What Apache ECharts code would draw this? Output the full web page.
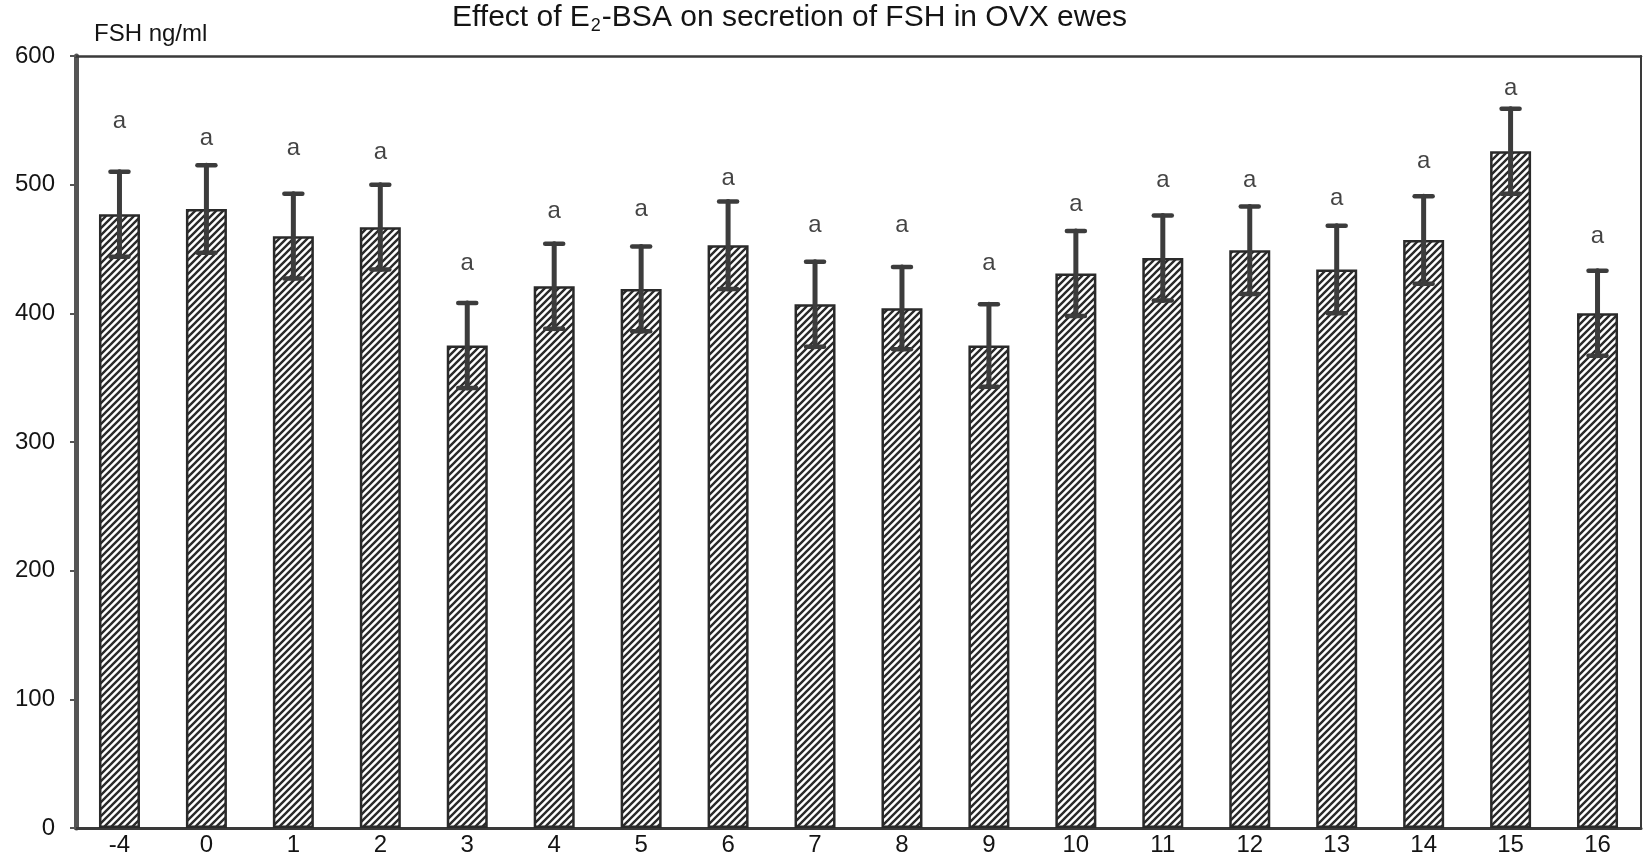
<!DOCTYPE html>
<html>
<head>
<meta charset="utf-8">
<title>FSH secretion</title>
<script src="https://cdn.jsdelivr.net/npm/echarts@6/dist/echarts.min.js"></script>
<style>
  html, body { margin: 0; padding: 0; background: #fff; }
  #chart { width: 1643px; height: 857px; }
</style>
</head>
<body>
<div id="chart"></div>
<script>
// Sampling days relative to E2-BSA treatment
const days = ['-4', '0', '1', '2', '3', '4', '5', '6', '7', '8', '9', '10', '11', '12', '13', '14', '15', '16'];
// Mean FSH (ng/ml) per day
const fshMean = [477, 481, 460, 467, 375, 421, 419, 453, 407, 404, 375, 431, 443, 449, 434, 457, 526, 400];
// Standard error of the mean
const fshSem = [33, 34, 33, 33, 33, 33, 33, 34, 33, 32, 32, 33, 33, 34, 34, 34, 33, 33];
// Significance letters and the height at which each is printed
const sigLetters = ['a', 'a', 'a', 'a', 'a', 'a', 'a', 'a', 'a', 'a', 'a', 'a', 'a', 'a', 'a', 'a', 'a', 'a'];
const sigLabelY = [549, 536, 528, 525, 439, 479, 481, 505, 468, 468, 439, 485, 503, 503, 489, 518, 575, 460];
const yTicks = [0, 100, 200, 300, 400, 500, 600];

const FONT = "'Liberation Sans', Arial, Helvetica, sans-serif";
const INK = '#141414';
const LINE = '#3a3a3a';

// Diagonal hatch fill for the bars
function hatchPattern() {
  const s = 7;
  const c = document.createElement('canvas');
  c.width = s; c.height = s;
  const ctx = c.getContext('2d');
  ctx.fillStyle = '#ffffff';
  ctx.fillRect(0, 0, s, s);
  ctx.strokeStyle = '#2a2a2a';
  ctx.lineWidth = 2.4;
  ctx.beginPath();
  ctx.moveTo(-1, s + 1); ctx.lineTo(s + 1, -1);
  ctx.moveTo(-2, 2); ctx.lineTo(2, -2);
  ctx.moveTo(s - 2, s + 2); ctx.lineTo(s + 2, s - 2);
  ctx.stroke();
  return c;
}

const errData = days.map((d, i) => [i, fshMean[i] - fshSem[i], fshMean[i] + fshSem[i]]);
const sigData = days.map((d, i) => [i, sigLabelY[i]]);

const chart = echarts.init(document.getElementById('chart'), null, { renderer: 'canvas' });

chart.setOption({
  animation: false,
  backgroundColor: '#ffffff',
  title: [
    {
      text: 'Effect of E{sub|2}-BSA on secretion of FSH in OVX ewes',
      left: 452,
      top: 1,
      padding: 0,
      textStyle: {
        fontFamily: FONT, fontSize: 30, fontWeight: 'normal', color: INK,
        lineHeight: 34,
        rich: {
          sub: { fontFamily: FONT, fontSize: 18, color: INK, lineHeight: 34, verticalAlign: 'bottom', padding: [14, 1, 0, 1] }
        }
      }
    },
    {
      text: 'FSH ng/ml',
      left: 94,
      top: 22,
      padding: 0,
      textStyle: { fontFamily: FONT, fontSize: 24, fontWeight: 'normal', color: INK }
    }
  ],
  grid: { left: 76, right: 2, top: 56, bottom: 27, containLabel: false },
  xAxis: [
    {
      type: 'category',
      data: days,
      position: 'bottom',
      axisLine: { show: true, onZero: false, lineStyle: { color: LINE, width: 3 } },
      axisTick: { show: false },
      axisLabel: { fontFamily: FONT, fontSize: 24, color: INK, margin: 5 },
      splitLine: { show: false }
    },
    {
      type: 'category',
      data: days,
      position: 'top',
      axisLine: { show: true, onZero: false, lineStyle: { color: LINE, width: 2.5 } },
      axisTick: { show: false },
      axisLabel: { show: false },
      splitLine: { show: false }
    }
  ],
  yAxis: [
    {
      type: 'value',
      min: yTicks[0],
      max: yTicks[yTicks.length - 1],
      interval: 100,
      position: 'left',
      axisLine: { show: true, onZero: false, lineStyle: { color: '#555', width: 5 } },
      axisTick: { show: true, length: 6, lineStyle: { color: '#555', width: 2 } },
      axisLabel: { fontFamily: FONT, fontSize: 24, color: INK, margin: 21 },
      splitLine: { show: false }
    },
    {
      type: 'value',
      min: yTicks[0],
      max: yTicks[yTicks.length - 1],
      interval: 100,
      position: 'right',
      axisLine: { show: true, onZero: false, lineStyle: { color: LINE, width: 2 } },
      axisTick: { show: false },
      axisLabel: { show: false },
      splitLine: { show: false }
    }
  ],
  series: [
    {
      type: 'bar',
      data: fshMean,
      barWidth: 41,
      itemStyle: {
        color: { image: hatchPattern(), repeat: 'repeat' },
        borderColor: '#2a2a2a',
        borderWidth: 2.5
      },
      z: 2
    },
    {
      type: 'custom',
      data: errData,
      z: 5,
      renderItem: function (params, api) {
        const x = api.value(0);
        const lo = api.coord([x, api.value(1)]);
        const hi = api.coord([x, api.value(2)]);
        const half = 9;
        const style = { stroke: '#3c3c3c', lineWidth: 5, lineCap: 'round' };
        const capStyle = { stroke: '#3c3c3c', lineWidth: 4.5, lineCap: 'round' };
        return {
          type: 'group',
          children: [
            { type: 'line', shape: { x1: hi[0], y1: hi[1], x2: lo[0], y2: lo[1] }, style: style },
            { type: 'line', shape: { x1: hi[0] - half, y1: hi[1], x2: hi[0] + half, y2: hi[1] }, style: capStyle },
            { type: 'line', shape: { x1: lo[0] - half, y1: lo[1], x2: lo[0] + half, y2: lo[1] }, style: capStyle }
          ]
        };
      }
    },
    {
      type: 'scatter',
      data: sigData,
      symbolSize: 1,
      itemStyle: { color: 'rgba(0,0,0,0)' },
      label: {
        show: true,
        position: 'inside',
        formatter: function (p) { return sigLetters[p.dataIndex]; },
        fontFamily: FONT,
        fontSize: 24,
        color: INK
      },
      z: 6
    }
  ]
});
</script>
</body>
</html>
